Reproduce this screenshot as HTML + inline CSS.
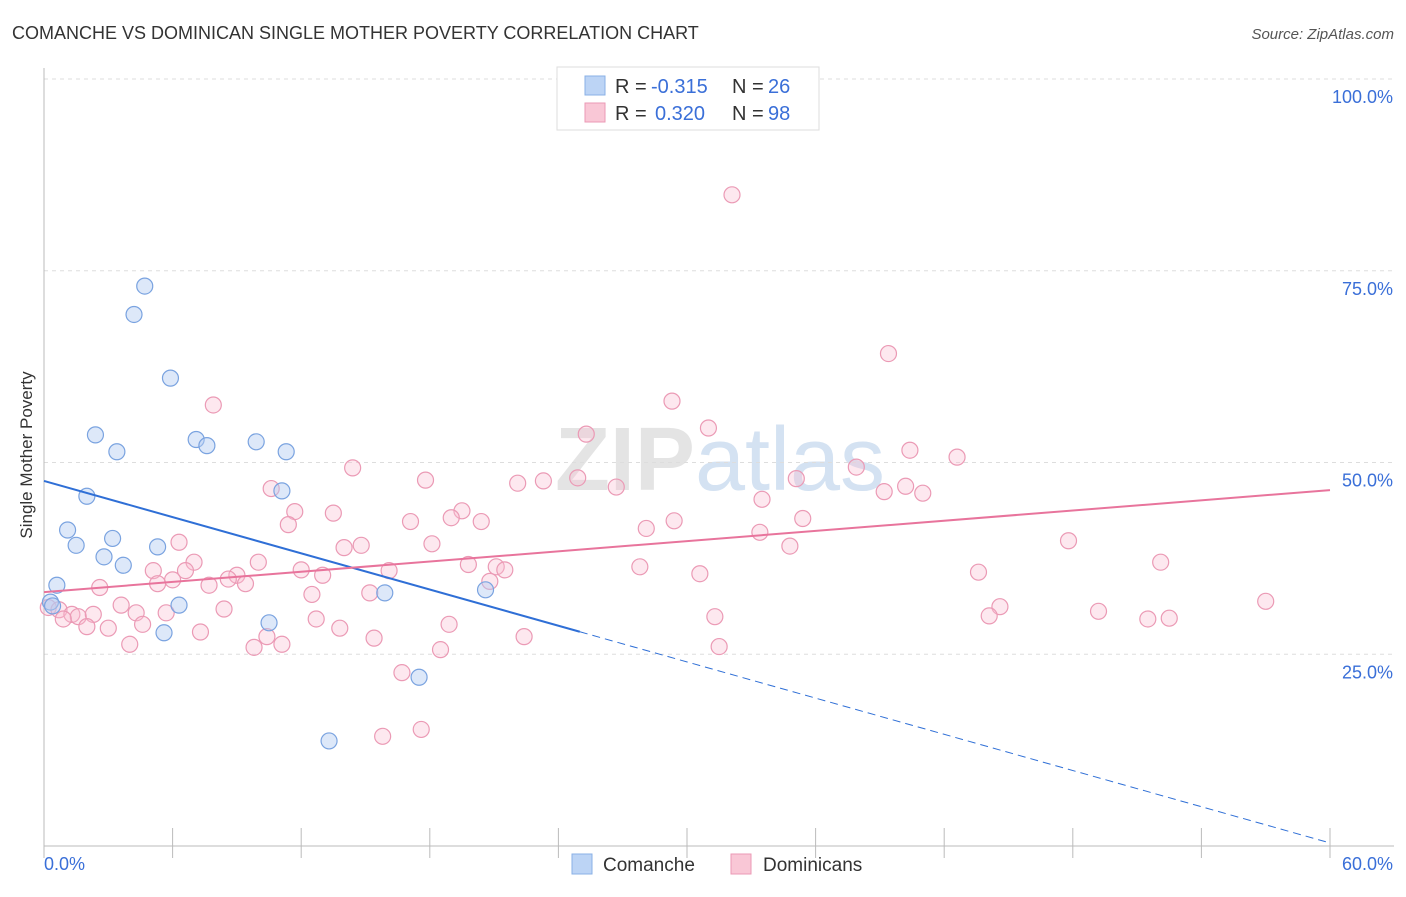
<!DOCTYPE html>
<html><head><meta charset="utf-8"><style>
body{margin:0;background:#fff;font-family:"Liberation Sans",sans-serif}
svg text{font-family:"Liberation Sans",sans-serif}
</style></head><body>
<svg id="chart" width="1406" height="892" xmlns="http://www.w3.org/2000/svg">
<text x="12" y="39" font-size="18" fill="#333">COMANCHE VS DOMINICAN SINGLE MOTHER POVERTY CORRELATION CHART</text>
<text x="1394" y="39" font-size="15" fill="#555" font-style="italic" text-anchor="end">Source: ZipAtlas.com</text>
<text x="720" y="490" font-size="90" fill="#e4e4e4" text-anchor="middle" font-weight="bold">ZIP<tspan fill="#d4e2f2" font-weight="normal">atlas</tspan></text>
<g id="grid"></g><g id="axes"></g><g id="marks"></g>
<text x="32" y="455" font-size="17" fill="#333" text-anchor="middle" transform="rotate(-90 32 455)">Single Mother Poverty</text>
<g>
<rect x="557" y="67" width="262" height="63" fill="#fff" stroke="#ddd"/>
<rect x="585" y="76" width="20" height="19" fill="#bcd4f5" stroke="#8ab0e6"/>
<rect x="585" y="103" width="20" height="19" fill="#f9c7d6" stroke="#eb9ab5"/>
<text x="615" y="93" font-size="20" fill="#333">R =</text>
<text x="651" y="93" font-size="20" fill="#3a6fd8">-0.315</text>
<text x="732" y="93" font-size="20" fill="#333">N =</text>
<text x="768" y="93" font-size="20" fill="#3a6fd8">26</text>
<text x="615" y="120" font-size="20" fill="#333">R =</text>
<text x="655" y="120" font-size="20" fill="#3a6fd8">0.320</text>
<text x="732" y="120" font-size="20" fill="#333">N =</text>
<text x="768" y="120" font-size="20" fill="#3a6fd8">98</text>
</g>
<g>
<rect x="572" y="854" width="20" height="20" fill="#bcd4f5" stroke="#8ab0e6"/>
<text x="603" y="871" font-size="19" fill="#333">Comanche</text>
<rect x="731" y="854" width="20" height="20" fill="#f9c7d6" stroke="#eb9ab5"/>
<text x="763" y="871" font-size="19" fill="#333">Dominicans</text>
</g>
</svg>
<script>
const yTicks=[25,50,75,100];
const yTickLabels=["25.0%","50.0%","75.0%","100.0%"];
const xTickLabels=["0.0%","60.0%"];
const comancheX=[4.7,4.2,5.9,2.4,3.4,7.1,7.6,9.9,11.3,11.1,2.0,1.1,1.5,3.2,2.8,3.7,5.3,0.6,0.3,0.4,6.3,5.6,10.5,15.9,20.6,17.5,13.3];
const comancheY=[73.0,69.3,61.0,53.6,51.4,53.0,52.2,52.7,51.4,46.3,45.6,41.2,39.2,40.1,37.7,36.6,39.0,34.0,31.8,31.3,31.4,27.8,29.1,33.0,33.4,22.0,13.7];
const dominicanX=[32.1,39.4,7.9,29.3,31.0,25.3,40.4,42.6,14.4,37.9,35.1,24.9,17.8,22.1,23.3,26.7,10.6,39.2,40.2,41.0,33.5,19.5,13.5,11.7,19.0,17.1,20.4,29.4,11.4,28.1,35.4,33.4,6.3,47.8,14.8,14.0,34.8,18.1,7.0,10.0,52.1,5.1,6.6,12.0,16.1,19.8,21.1,21.5,27.8,30.6,43.6,13.0,9.0,8.6,6.0,5.3,9.4,7.7,2.6,15.2,12.5,57.0,44.6,3.6,8.4,5.7,0.2,0.7,1.3,1.6,2.3,4.3,0.9,49.2,31.3,44.1,51.5,52.5,4.6,12.7,18.9,2.0,3.0,7.3,13.8,10.4,22.4,15.4,4.0,31.5,9.8,11.1,18.5,16.7,17.6,15.8,20.8];
const dominicanY=[84.9,64.2,57.5,58.0,54.5,53.7,51.6,50.7,49.3,49.4,47.9,48.0,47.7,47.3,47.6,46.8,46.6,46.2,46.9,46.0,45.2,43.7,43.4,43.6,42.8,42.3,42.3,42.4,41.9,41.4,42.7,40.9,39.6,39.8,39.2,38.9,39.1,39.4,37.0,37.0,37.0,35.9,35.9,36.0,35.9,36.7,36.4,36.0,36.4,35.5,35.7,35.3,35.3,34.8,34.7,34.2,34.2,34.0,33.7,33.0,32.8,31.9,31.2,31.4,30.9,30.4,31.1,30.8,30.2,29.9,30.2,30.4,29.6,30.6,29.9,30.0,29.6,29.7,28.9,29.6,28.9,28.6,28.4,27.9,28.4,27.3,27.3,27.1,26.3,26.0,25.9,26.3,25.6,22.6,15.2,14.3,34.5];
const comancheTrend=[47.6,0.4];
const dominicanTrend=[33.1,46.4];
const X=v=>44+v*(1286/60), Y=v=>846-v*7.67;
const NS="http://www.w3.org/2000/svg";
function mk(t,a,p){const e=document.createElementNS(NS,t);for(const k in a)e.setAttribute(k,a[k]);p.appendChild(e);return e;}
const grid=document.getElementById('grid'),axes=document.getElementById('axes'),marks=document.getElementById('marks');
yTicks.forEach((t,i)=>{
 const l=mk('line',{x1:44,x2:1394,y1:Y(t),y2:Y(t),stroke:'#ddd','stroke-dasharray':'4,4'},grid);
 
 
 const tx=mk('text',{x:1393,y:Y(t)+24,'font-size':18,fill:'#3a6fd8','text-anchor':'end'},axes);
 tx.textContent=yTickLabels[i];
 
 
});
mk('line',{x1:44,x2:44,y1:68,y2:846,stroke:'#bbb'},axes);
mk('line',{x1:44,x2:1394,y1:846,y2:846,stroke:'#bbb'},axes);
for(let i=0;i<=10;i++){mk('line',{x1:X(i*6),x2:X(i*6),y1:828,y2:858,stroke:'#bbb'},axes);}
[[44,'start',0],[1393,'end',1]].forEach(([x,a,i])=>{
 const t=mk('text',{x:x,y:870,'font-size':18,fill:'#3a6fd8','text-anchor':a},axes);
 t.textContent=xTickLabels[i];
 
 
});
dominicanX.forEach((x,i)=>{
 const c=mk('circle',{cx:X(x),cy:Y(dominicanY[i]),r:8,fill:'rgba(248,190,208,0.35)',stroke:'#eb9ab5','stroke-width':1.2},marks);
 
 
});
comancheX.forEach((x,i)=>{
 const c=mk('circle',{cx:X(x),cy:Y(comancheY[i]),r:8,fill:'rgba(180,205,242,0.45)',stroke:'#7aa3e0','stroke-width':1.2},marks);
 
 
});
const cy=x=>comancheTrend[0]+(comancheTrend[1]-comancheTrend[0])*x/60;
const l1=mk('line',{x1:X(0),y1:Y(cy(0)),x2:X(25),y2:Y(cy(25)),stroke:'#2f6fd6','stroke-width':2},marks);


const l2=mk('line',{x1:X(25),y1:Y(cy(25)),x2:X(60),y2:Y(cy(60)),stroke:'#2f6fd6','stroke-width':1,'stroke-dasharray':'8,5'},marks);


const l3=mk('line',{x1:X(0),y1:Y(dominicanTrend[0]),x2:X(60),y2:Y(dominicanTrend[1]),stroke:'#e8749c','stroke-width':2},marks);


</script>
</body></html>
